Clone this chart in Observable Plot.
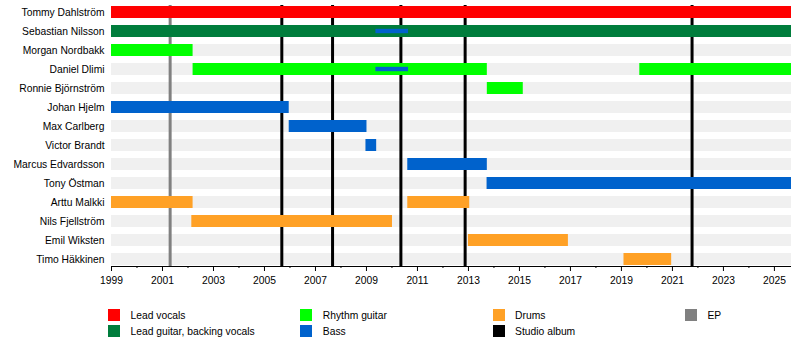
<!DOCTYPE html>
<html><head><meta charset="utf-8">
<script src="https://cdn.jsdelivr.net/npm/d3@7"></script>
<script src="https://cdn.jsdelivr.net/npm/@observablehq/plot@0.6"></script>
<style>
body{margin:0;background:#fff;font-family:"Liberation Sans",Arial,sans-serif;}
#legend{position:relative;width:800px;height:63px;font-size:10.3px;color:#000;}
.item{position:absolute;display:flex;align-items:center;height:12px;white-space:nowrap;}
.sw{width:12px;height:12px;margin-right:10.5px;flex:none;}
</style></head><body><div id="chart"></div><div id="legend"></div>
<script>
// Members (rows, top to bottom)
const members = ["Tommy Dahlström","Sebastian Nilsson","Morgan Nordbakk","Daniel Dlimi","Ronnie Björnström","Johan Hjelm","Max Carlberg","Victor Brandt","Marcus Edvardsson","Tony Östman","Arttu Malkki","Nils Fjellström","Emil Wiksten","Timo Häkkinen"];
const roles = ["Lead vocals","Lead guitar, backing vocals","Rhythm guitar","Bass","Drums"];
const roleColors = ["#ff0000","#007d3c","#00ff00","#0062cc","#ffa126"];

// Main stints
const stintMember = ["Tommy Dahlström","Sebastian Nilsson","Morgan Nordbakk","Daniel Dlimi","Daniel Dlimi","Ronnie Björnström","Johan Hjelm","Max Carlberg","Victor Brandt","Marcus Edvardsson","Tony Östman","Arttu Malkki","Arttu Malkki","Nils Fjellström","Emil Wiksten","Timo Häkkinen"];
const stintRole = ["Lead vocals","Lead guitar, backing vocals","Rhythm guitar","Rhythm guitar","Rhythm guitar","Rhythm guitar","Bass","Bass","Bass","Bass","Bass","Drums","Drums","Drums","Drums","Drums"];
const stintStart = [1999,1999,1999,2002.2,2019.72,2013.74,1999,2005.97,2008.98,2010.62,2013.73,1999,2010.62,2002.15,2013.0,2019.1];
const stintEnd = [2025.67,2025.67,2002.2,2013.74,2025.67,2015.15,2005.97,2009.02,2009.4,2013.74,2025.67,2002.2,2013.05,2010.02,2016.92,2020.97];

// Secondary (thin) stints
const secMember = ["Sebastian Nilsson","Daniel Dlimi"];
const secRole = ["Bass","Bass"];
const secStart = [2009.37,2009.37];
const secEnd = [2010.65,2010.65];

// Releases
const epYears = [2001.3];
const albumYears = [2005.68,2007.67,2010.35,2012.87,2021.77];

// Axis
const axisStart = 1999, axisEnd = 2025.67;
const majorTicks = [1999,2001,2003,2005,2007,2009,2011,2013,2015,2017,2019,2021,2023,2025];
const minorTicks = [2000,2002,2004,2006,2008,2010,2012,2014,2016,2018,2020,2022,2024];

// Legend
const legendLabels = ["Lead vocals","Lead guitar, backing vocals","Rhythm guitar","Bass","Drums","Studio album","EP"];
const legendColors = ["#ff0000","#007d3c","#00ff00","#0062cc","#ffa126","#000000","#808080"];

const stints = stintMember.map((m,i)=>({member:m, role:stintRole[i], start:stintStart[i], end:stintEnd[i]}));
const sec = secMember.map((m,i)=>({member:m, role:secRole[i], start:secStart[i], end:secEnd[i]}));
const rows = members.map(m=>({member:m, start:axisStart, end:axisEnd}));

const chart = Plot.plot({
  width: 800, height: 292, marginTop: 5, marginBottom: 26, marginLeft: 111, marginRight: 9,
  style: {fontFamily: "'Liberation Sans', Arial, sans-serif", fontSize: "10.3px", background: "#fff", color: "#000"},
  x: {domain: [axisStart, axisEnd], axis: null},
  y: {domain: members, paddingInner: 0.39, paddingOuter: 0, axis: null},
  color: {domain: roles, range: roleColors},
  marks: [
    Plot.barX(rows, {y: "member", x1: "start", x2: "end", fill: "#f0f0f0"}),
    Plot.ruleX(epYears, {x: d=>d, stroke: "#808080", strokeWidth: 3}),
    Plot.ruleX(albumYears, {x: d=>d, stroke: "#000", strokeWidth: 3}),
    Plot.barX(stints, {y: "member", x1: "start", x2: "end", fill: "role"}),
    Plot.barX(sec, {y: "member", x1: "start", x2: "end", fill: "role", insetTop: 3.8, insetBottom: 3.8}),
    Plot.axisX({ticks: majorTicks, tickSize: 5, tickPadding: 5, tickFormat: d=>String(d), label: null}),
    Plot.axisX({ticks: minorTicks, tickSize: 2, tickFormat: ()=>"", label: null}),
    Plot.axisY({tickSize: 0, tickPadding: 7, label: null})
  ]
});
document.getElementById("chart").appendChild(chart);
const sx = chart.scale("x"), sy = chart.scale("y");
d3.select(chart).append("line")
  .attr("x1", sx.range[0]).attr("x2", sx.range[1])
  .attr("y1", sy.range[1] + 0.5).attr("y2", sy.range[1] + 0.5)
  .attr("stroke", "#000").attr("stroke-width", 1);

const leg = document.getElementById("legend");
legendLabels.forEach((lab,i)=>{
  const col = Math.floor(i/2), row = i%2;
  const it = document.createElement("div");
  it.className = "item";
  it.style.left = (108 + 192.3*col) + "px";
  it.style.top = (17 + 16*row) + "px";
  const sw = document.createElement("div");
  sw.className = "sw"; sw.style.background = legendColors[i];
  const tx = document.createElement("span");
  tx.textContent = lab;
  it.appendChild(sw); it.appendChild(tx);
  leg.appendChild(it);
});
</script></body></html>
